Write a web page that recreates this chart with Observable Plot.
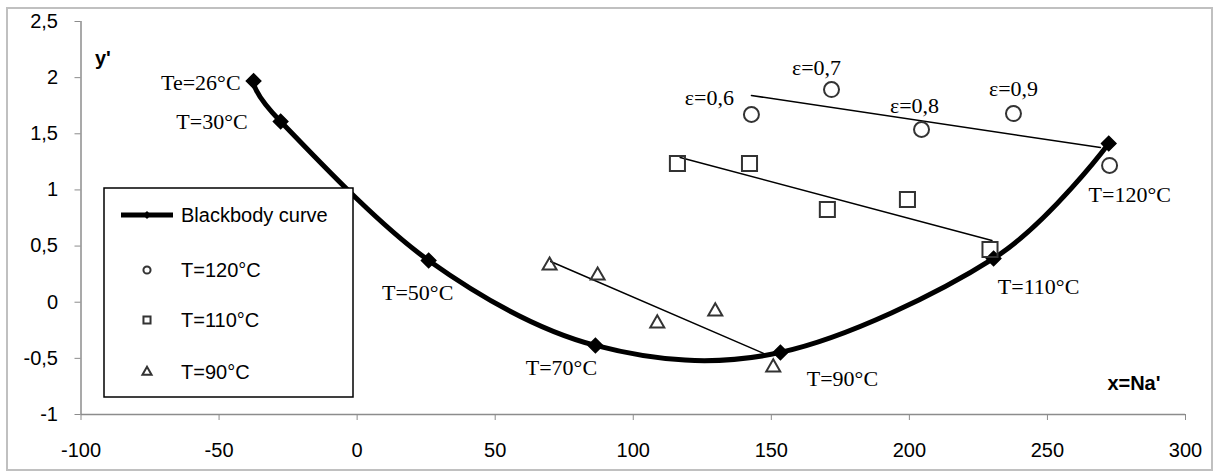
<!DOCTYPE html>
<html>
<head>
<meta charset="utf-8">
<script src="https://cdn.jsdelivr.net/npm/d3@7"></script>
<script src="https://cdn.jsdelivr.net/npm/@observablehq/plot@0.6"></script>
<style>
  html, body { margin: 0; padding: 0; background: #fff; }
  #chart { position: relative; width: 1218px; height: 474px; }
</style>
</head>
<body>
<div id="chart"></div>
<script>
// ---- data ----
const xTicks = [-100, -50, 0, 50, 100, 150, 200, 250, 300];
const yTicks = [-1, -0.5, 0, 0.5, 1, 1.5, 2, 2.5];

// Blackbody curve (diamonds)
const bbLabels = ["Te=26°C", "T=30°C", "T=50°C", "T=70°C", "T=90°C", "T=110°C", "T=120°C"];
const bbX = [-37.5, -27.7, 25.9, 86.3, 153.3, 230.5, 272.2];
const bbY = [1.97, 1.61, 0.372, -0.385, -0.447, 0.39, 1.414];

// T=120°C (circles)
const t120X = [142.8, 171.8, 204.4, 237.7, 272.5];
const t120Y = [1.672, 1.894, 1.538, 1.68, 1.218];
const epsLabels = ["ε=0,6", "ε=0,7", "ε=0,8", "ε=0,9"];

// T=110°C (squares)
const t110X = [116.0, 142.1, 170.3, 199.3, 229.2];
const t110Y = [1.236, 1.236, 0.826, 0.915, 0.47];

// T=90°C (triangles)
const t90X = [69.7, 87.1, 108.7, 129.7, 150.7];
const t90Y = [0.327, 0.238, -0.189, -0.082, -0.581];

// straight fit lines (endpoints)
const fit120X = [142.8, 269.2], fit120Y = [1.841, 1.378];
const fit110X = [117.0, 229.9], fit110Y = [1.289, 0.55];
const fit90X = [70.1, 147.2], fit90Y = [0.363, -0.456];

const legendLabels = ["Blackbody curve", "T=120°C", "T=110°C", "T=90°C"];

// ---- layout (label offsets in px) ----
const bbLabelOffsets = [
  {dx: -13, dy: 2, anchor: "end"},
  {dx: -33, dy: 1, anchor: "end"},
  {dx: -11, dy: 33, anchor: "middle"},
  {dx: -34, dy: 23, anchor: "middle"},
  {dx: 62, dy: 27, anchor: "middle"},
  {dx: 45, dy: 29, anchor: "middle"},
  {dx: 21, dy: 52, anchor: "middle"}
];
const epsOffsets = [
  {dx: -42, dy: -17}, {dx: -15, dy: -22}, {dx: -7, dy: -24}, {dx: 0, dy: -25}
];

const zip = (xs, ys) => xs.map((x, i) => ({x, y: ys[i]}));
const bb = zip(bbX, bbY).map((d, i) => ({...d, label: bbLabels[i], ...bbLabelOffsets[i]}));
const c120 = zip(t120X, t120Y);
const s110 = zip(t110X, t110Y);
const tr90 = zip(t90X, t90Y);
const eps = epsLabels.map((l, i) => ({x: t120X[i], y: t120Y[i], label: l, ...epsOffsets[i]}));

const fmt = d => String(d).replace(".", ",");
const serif = "'Liberation Serif', 'Times New Roman', serif";
const sans = "'Liberation Sans', Arial, sans-serif";
const mk = "#333";

const marks = [
  Plot.ruleY([-1], {stroke: "#8c8c8c", strokeWidth: 1.5}),
  Plot.ruleX([-100], {stroke: "#8c8c8c", strokeWidth: 1.5}),
  Plot.axisX({ticks: xTicks, tickSize: 6, tickPadding: 22, tickFormat: d => String(d), stroke: "#8c8c8c", fill: "#000", fontSize: 20, label: null}),
  Plot.axisY({ticks: yTicks, tickSize: 6, tickPadding: 17, tickFormat: fmt, stroke: "#8c8c8c", fill: "#000", fontSize: 20, label: null}),
  // fit lines
  Plot.line(zip(fit120X, fit120Y), {x: "x", y: "y", stroke: "#000", strokeWidth: 1.5}),
  Plot.line(zip(fit110X, fit110Y), {x: "x", y: "y", stroke: "#000", strokeWidth: 1.5}),
  Plot.line(zip(fit90X, fit90Y), {x: "x", y: "y", stroke: "#000", strokeWidth: 1.5}),
  // blackbody curve
  Plot.line(bb, {x: "x", y: "y", curve: "cardinal", stroke: "#000", strokeWidth: 5}),
  Plot.dot(bb, {x: "x", y: "y", symbol: "diamond2", r: 6.5, fill: "#000", stroke: "#000"}),
  // markers
  Plot.dot(c120, {x: "x", y: "y", symbol: "circle", r: 7.5, stroke: mk, strokeWidth: 2, fill: "none"}),
  Plot.dot(s110, {x: "x", y: "y", symbol: "square", r: 8.5, stroke: mk, strokeWidth: 2, fill: "none"}),
  Plot.dot(tr90, {x: "x", y: "y", symbol: "triangle", r: 5.2, stroke: mk, strokeWidth: 2, fill: "none"}),
  // labels
  ...bb.map(d => Plot.text([d], {x: "x", y: "y", text: "label", dx: d.dx, dy: d.dy, textAnchor: d.anchor, fontFamily: serif, fontSize: 22, fill: "#000"})),
  ...eps.map(d => Plot.text([d], {x: "x", y: "y", text: "label", dx: d.dx, dy: d.dy, textAnchor: "middle", fontFamily: serif, fontSize: 22, fill: "#000"})),
  Plot.text(["y'"], {frameAnchor: "top-left", dx: 14, dy: 29, textAnchor: "start", fontFamily: sans, fontWeight: "bold", fontSize: 20, fill: "#000"}),
  Plot.text(["x=Na'"], {frameAnchor: "bottom-right", dx: -25, dy: -25, textAnchor: "end", fontFamily: sans, fontWeight: "bold", fontSize: 20, fill: "#000"})
];

const plot = Plot.plot({
  width: 1218,
  height: 474,
  marginLeft: 80.5,
  marginRight: 33,
  marginTop: 21,
  marginBottom: 60,
  style: {fontFamily: sans, fontSize: "20px", background: "#fff", color: "#000"},
  x: {domain: [-100, 300]},
  y: {domain: [-1, 2.5]},
  marks
});
document.getElementById("chart").appendChild(plot);

// outer chart border and legend box
const svg = d3.select(plot);
svg.insert("rect", ":first-child")
  .attr("x", 7).attr("y", 8).attr("width", 1205).attr("height", 462)
  .attr("fill", "#fff").attr("stroke", "#c0c0c0").attr("stroke-width", 2);

const lg = svg.append("g").attr("text-anchor", "start");
lg.append("rect").attr("x", 104).attr("y", 188).attr("width", 249).attr("height", 209)
  .attr("fill", "#fff").attr("stroke", "#000").attr("stroke-width", 1.5);
const rowY = [215, 270, 320, 372];
lg.append("line").attr("x1", 121).attr("x2", 173).attr("y1", rowY[0]).attr("y2", rowY[0])
  .attr("stroke", "#000").attr("stroke-width", 5);
lg.append("path").attr("d", d3.symbol(d3.symbolDiamond2, 40)()).attr("transform", `translate(147,${rowY[0]})`).attr("fill", "#000");
lg.append("path").attr("d", d3.symbol(d3.symbolCircle, 40)()).attr("transform", `translate(147,${rowY[1]})`).attr("fill", "none").attr("stroke", mk).attr("stroke-width", 2);
lg.append("path").attr("d", d3.symbol(d3.symbolSquare, 50)()).attr("transform", `translate(147,${rowY[2]})`).attr("fill", "none").attr("stroke", mk).attr("stroke-width", 2);
lg.append("path").attr("d", d3.symbol(d3.symbolTriangle, 36)()).attr("transform", `translate(147,${rowY[3]})`).attr("fill", "none").attr("stroke", mk).attr("stroke-width", 2);
legendLabels.forEach((t, i) => {
  lg.append("text").attr("x", 181).attr("y", rowY[i]).attr("dy", "0.35em")
    .attr("text-anchor", "start")
    .attr("font-family", sans).attr("font-size", 20).attr("fill", "#000").text(t);
});
</script>
</body>
</html>
